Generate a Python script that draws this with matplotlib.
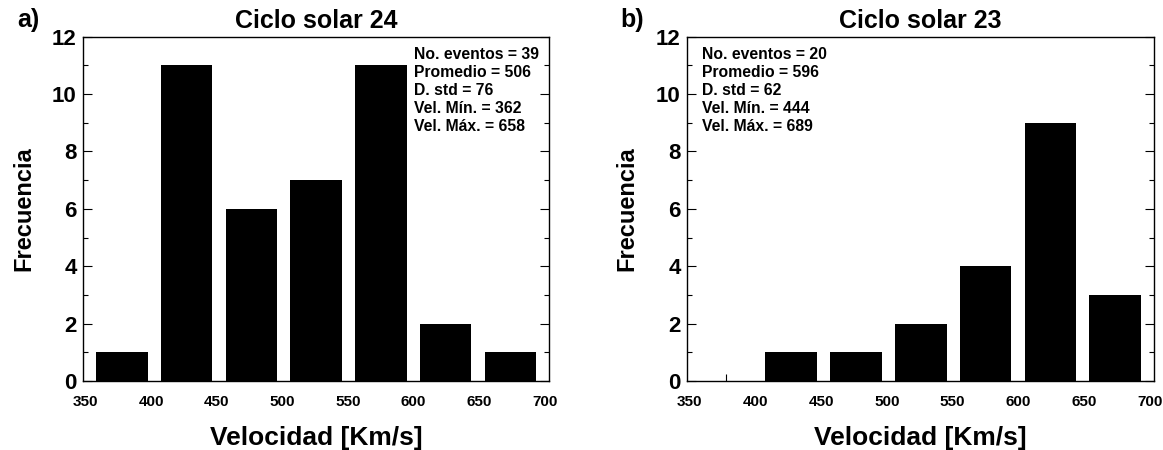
import matplotlib
matplotlib.use("Agg")
import matplotlib.pyplot as plt
from matplotlib.ticker import FixedLocator, MultipleLocator

# ---- data ----
bin_centers = [377.5, 426.9, 476.3, 525.7, 575.1, 624.5, 673.9]   # km/s (bar centres)
counts_c24 = [1, 11, 6, 7, 11, 2, 1]
counts_c23 = [0, 1, 1, 2, 4, 9, 3]
xtick_values = [350, 400, 450, 500, 550, 600, 650, 700]
titles = ["Ciclo solar 24", "Ciclo solar 23"]
panel_tags = ["a)", "b)"]
stats_c24 = ["No. eventos = 39", "Promedio = 506", "D. std = 76",
             "Vel. Mín. = 362", "Vel. Máx. = 658"]
stats_c23 = ["No. eventos = 20", "Promedio = 596", "D. std = 62",
             "Vel. Mín. = 444", "Vel. Máx. = 689"]
xlabel = "Velocidad [Km/s]"
ylabel = "Frecuencia"

FONT = ["Liberation Sans", "DejaVu Sans"]

fig = plt.figure(figsize=(11.63, 4.5), dpi=100)
W, H = 1163, 450
ax_a = fig.add_axes([82.7 / W, (H - 381) / H, 466.6 / W, 344.3 / H])
ax_b = fig.add_axes([686.7 / W, (H - 381) / H, 467.6 / W, 344.3 / H])

panels = [
    (ax_a, counts_c24, stats_c24, 0.7103),
    (ax_b, counts_c23, stats_c23, 0.0336),
]

for i, (ax, counts, stats, sx) in enumerate(panels):
    ax.bar(bin_centers, counts, width=39.4, color="black", linewidth=0, zorder=2)
    ax.set_xlim(347.6, 703.6)
    ax.set_ylim(0, 12)

    for sp in ax.spines.values():
        sp.set_linewidth(1.0)
        sp.set_color("black")

    # y ticks
    ax.yaxis.set_major_locator(MultipleLocator(2))
    ax.yaxis.set_minor_locator(MultipleLocator(1))
    ax.tick_params(axis="y", which="major", direction="in", length=6.5, width=0.8,
                   left=True, right=True, pad=4.3)
    ax.tick_params(axis="y", which="minor", direction="in", length=3.6, width=0.8,
                   left=True, right=True)
    for lab in ax.get_yticklabels():
        lab.set_fontfamily(FONT)
        lab.set_fontweight("bold")
        lab.set_fontsize(16)

    # x ticks: labels at round values, small tick marks at bar centres
    ax.xaxis.set_major_locator(FixedLocator(xtick_values))
    ax.xaxis.set_minor_locator(FixedLocator(bin_centers))
    ax.set_xticklabels([str(v) for v in xtick_values])
    ax.tick_params(axis="x", which="major", length=0, pad=10.4, top=False)
    ax.tick_params(axis="x", which="minor", direction="in", length=5, width=0.8,
                   top=False)
    for lab in ax.get_xticklabels():
        lab.set_fontfamily(FONT)
        lab.set_fontweight("bold")
        lab.set_fontsize(11)

    ax.set_xlabel(xlabel, fontfamily=FONT, fontweight="bold", fontsize=19)
    ax.xaxis.set_label_coords(0.5, -0.186)
    ax.xaxis.label.set_va("baseline")

    ax.set_ylabel(ylabel, fontfamily=FONT, fontweight="bold", fontsize=17)
    ax.yaxis.set_label_coords(-0.127, 0.5)
    ax.yaxis.label.set_va("center")

    ax.text(0.5, 1.0244, titles[i], transform=ax.transAxes, ha="center",
            va="baseline", fontfamily=FONT, fontweight="bold", fontsize=18)
    ax.text(-0.141, 1.028, panel_tags[i], transform=ax.transAxes, ha="left",
            va="baseline", fontfamily=FONT, fontweight="bold", fontsize=18)

    ax.text(sx, 0.970, "\n".join(stats), transform=ax.transAxes, ha="left",
            va="top", fontfamily=FONT, fontweight="bold", fontsize=11.3,
            linespacing=1.25, zorder=5)

fig.savefig("out.png", dpi=100)
